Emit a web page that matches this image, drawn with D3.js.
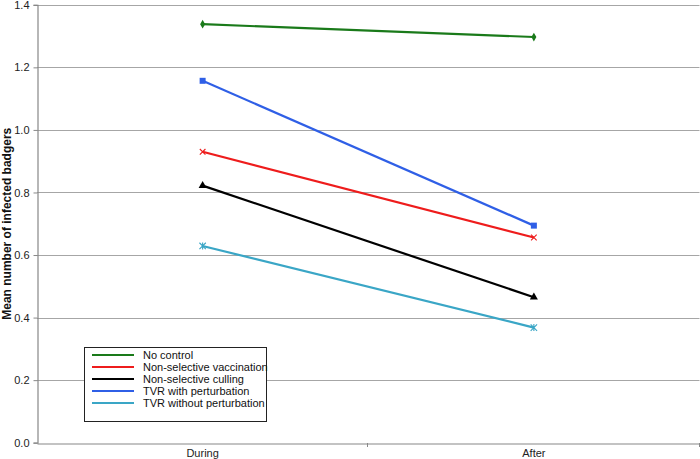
<!DOCTYPE html>
<html>
<head>
<meta charset="utf-8">
<script src="https://cdn.jsdelivr.net/npm/d3@7"></script>
<style>
html,body{margin:0;padding:0;background:#fff;}
svg{display:block;font-family:"Liberation Sans",Arial,sans-serif;}
</style>
</head>
<body>
<svg id="chart" width="700" height="459"></svg>
<script>
const categories = ["During", "After"];
const seriesNames = ["No control", "Non-selective vaccination", "Non-selective culling", "TVR with perturbation", "TVR without perturbation"];
const noControl = [1.338, 1.297];
const nonSelectiveVaccination = [0.930, 0.656];
const nonSelectiveCulling = [0.822, 0.465];
const tvrWithPerturbation = [1.157, 0.694];
const tvrWithoutPerturbation = [0.629, 0.368];
const yTicks = [0, 0.2, 0.4, 0.6, 0.8, 1.0, 1.2, 1.4];

const seriesColors = ["#1a7a1a", "#ee1c1c", "#000000", "#2f5fe6", "#3aa6c6"];
const seriesMarkers = ["diamond", "x", "triangle", "square", "star"];
const seriesValues = [noControl, nonSelectiveVaccination, nonSelectiveCulling, tvrWithPerturbation, tvrWithoutPerturbation];

(function () {
const svg = d3.select("#chart");
const pLeft = 37, pRight = 699.5, pTop = 4.8, pBottom = 442.7;

const x = d3.scaleBand().domain(categories).range([pLeft, pRight]);
const y = d3.scaleLinear().domain([0, 1.4]).range([pBottom, pTop]);

// gridlines
svg.append("g").selectAll("line").data(yTicks.filter(d => d > 0)).join("line")
  .attr("x1", pLeft).attr("x2", pRight)
  .attr("y1", d => Math.round(y(d)) + 0.5).attr("y2", d => Math.round(y(d)) + 0.5)
  .attr("stroke", "#a6a6a6").attr("stroke-width", 1.2);

// y axis
const yAxis = svg.append("g").attr("transform", `translate(${pLeft + 0.5},0)`)
  .call(d3.axisLeft(y).tickValues(yTicks).tickFormat(d3.format(".1f")).tickSizeOuter(0).tickSize(4));
yAxis.select(".domain").attr("stroke", "#888").attr("stroke-width", 1.2);
yAxis.selectAll(".tick line").attr("stroke", "#888");
yAxis.selectAll(".tick text").attr("font-size", 11).attr("fill", "#222").attr("x", -8)
  .attr("font-family", '"Liberation Sans",Arial,sans-serif');

// x axis
const xAxis = svg.append("g").attr("transform", `translate(0,${Math.round(pBottom) + 0.5})`)
  .call(d3.axisBottom(x).tickSize(0).tickSizeOuter(0));
xAxis.select(".domain").attr("stroke", "#888").attr("stroke-width", 1.2);
xAxis.selectAll(".tick text").attr("font-size", 11).attr("fill", "#222").attr("dy", "0.95em")
  .attr("font-family", '"Liberation Sans",Arial,sans-serif');
// category boundary ticks
const boundaries = [x(categories[1]), pRight];
svg.append("g").selectAll("line").data(boundaries).join("line")
  .attr("x1", d => Math.round(d) - 0.5).attr("x2", d => Math.round(d) - 0.5)
  .attr("y1", Math.round(pBottom)).attr("y2", Math.round(pBottom) + 4)
  .attr("stroke", "#888");

// y title
svg.append("text")
  .attr("transform", `translate(11,${(pTop + pBottom) / 2}) rotate(-90)`)
  .attr("text-anchor", "middle")
  .attr("font-size", 12).attr("font-weight", "bold").attr("fill", "#111")
  .text("Mean number of infected badgers");

// lines
const line = d3.line().x((d, i) => x(categories[i]) + x.bandwidth() / 2).y(d => y(d));
const symbolMap = {diamond: d3.symbolDiamond, square: d3.symbolSquare, triangle: d3.symbolTriangle};

seriesValues.forEach((vals, s) => {
  const g = svg.append("g");
  g.append("path").datum(vals).attr("d", line)
    .attr("fill", "none").attr("stroke", seriesColors[s]).attr("stroke-width", 2.2);
  vals.forEach((v, i) => {
    const cx = x(categories[i]) + x.bandwidth() / 2, cy = y(v);
    const m = seriesMarkers[s];
    if (m === "x") {
      g.append("path").attr("d", `M${cx-2.8},${cy-2.8}L${cx+2.8},${cy+2.8}M${cx-2.8},${cy+2.8}L${cx+2.8},${cy-2.8}`)
        .attr("stroke", seriesColors[s]).attr("stroke-width", 1.1);
    } else if (m === "star") {
      g.append("path").attr("d", `M${cx-3.2},${cy-3.2}L${cx+3.2},${cy+3.2}M${cx-3.2},${cy+3.2}L${cx+3.2},${cy-3.2}M${cx},${cy-3.5}L${cx},${cy+3.5}`)
        .attr("stroke", seriesColors[s]).attr("stroke-width", 1.1);
    } else {
      const size = m === "square" ? 36 : (m === "triangle" ? 28 : 22);
      g.append("path").attr("d", d3.symbol().type(symbolMap[m]).size(size)())
        .attr("transform", `translate(${cx},${cy})`)
        .attr("fill", seriesColors[s]);
    }
  });
});

// legend
const lg = svg.append("g");
lg.append("rect").attr("x", 84.5).attr("y", 347.5).attr("width", 182).attr("height", 74)
  .attr("fill", "#fff").attr("stroke", "#222").attr("stroke-width", 1);
seriesNames.forEach((name, i) => {
  const ly = 355 + i * 12;
  lg.append("line").attr("x1", 92).attr("x2", 134).attr("y1", ly).attr("y2", ly)
    .attr("stroke", seriesColors[i]).attr("stroke-width", 2.2);
  lg.append("text").attr("x", 143).attr("y", ly).attr("dy", "0.35em")
    .attr("font-size", 11).attr("fill", "#111").text(name);
});
})();
</script>
</body>
</html>
